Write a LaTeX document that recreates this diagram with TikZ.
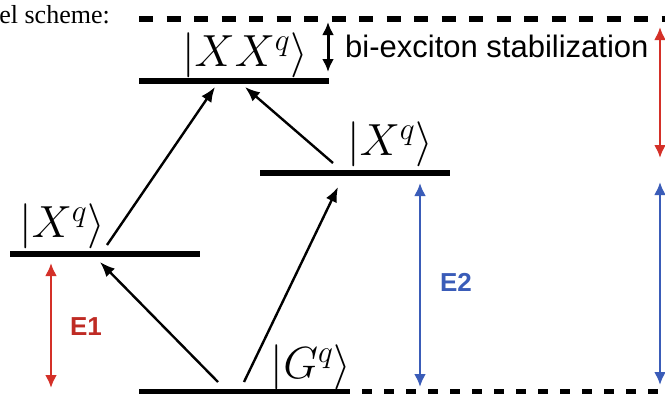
\RequirePackage{fix-cm}
\documentclass[tikz,border=0pt]{standalone}
\usepackage{fontspec}
\setsansfont{Liberation Sans}
\newfontfamily\timesfont{Liberation Serif}
\usetikzlibrary{arrows.meta}
\definecolor{eonered}{RGB}{212,48,40}
\definecolor{etwoblue}{RGB}{58,92,184}

\begin{document}
\begin{tikzpicture}[x=1pt,y=-1pt,>={Latex[length=15pt,width=12pt]},
 level/.style={line width=6pt},
 ket/.style={inner sep=0pt,anchor=south,font=\fontsize{45}{48}\selectfont},
 trans/.style={->,line width=2.4pt},
 gap/.style={<->,line width=2.8pt,>={Latex[length=13pt,width=12pt]}},
 elabel/.style={font=\fontsize{26}{30}\selectfont\sffamily\bfseries}]
\useasboundingbox (0,0) rectangle (665,394);
\node[anchor=base east,inner sep=0pt,font=\fontsize{26}{30}\selectfont\timesfont] (title) at (110,23) {el scheme:};
% levels
\draw[level,dash pattern=on 14pt off 13.5pt] (139,19) coordinate (top0)--(665,19) coordinate (top1);
\draw[level] (139,81) coordinate (xxL)--(329,81) coordinate (xxR);
\draw[level] (260,173) coordinate (xbL)--(450,173) coordinate (xbR);
\draw[level] (10,254) coordinate (xaL)--(200,254) coordinate (xaR);
\draw[level] (139,392) coordinate (gL)--(340,392) coordinate (gR);
\draw[level,dash pattern=on 10pt off 12pt] (gR)--(665,392) coordinate (bot1);
\node[ket] (xx) at (245,78) {$|XX^q\rangle$};
\node[ket] (xb) at (390,167) {$|X^q\rangle$};
\node[ket] (xa) at (62,249) {$|X^q\rangle$};
\node[ket] (g) at (311,390) {$|G^q\rangle$};
% transitions
\coordinate (xaUp) at (107,245);\coordinate (xxIn1) at (215,87);
\coordinate (xbUp) at (333,163);\coordinate (xxIn2) at (245,87);
\coordinate (gUp1) at (218,382);\coordinate (xaIn) at (100,262);
\coordinate (gUp2) at (244,382);\coordinate (xbIn) at (338,187);
\draw[trans] (xaUp)--(xxIn1);\draw[trans] (xbUp)--(xxIn2);
\draw[trans] (gUp1)--(xaIn);\draw[trans] (gUp2)--(xbIn);
% energies
\draw[gap,black,line width=3pt] (328,22) coordinate (stabT)--(328,72) coordinate (stabB);
\node[anchor=base west,inner sep=0pt,font=\fontsize{31}{34}\selectfont\sffamily] (stab) at (345,57) {bi-exciton stabilization};
\draw[gap,eonered] (51,263) coordinate (eoneT)--(51,388) coordinate (eoneB);
\node[elabel,text=eonered!90!black] (eone) at (86,327) {E1};
\draw[gap,etwoblue] (420,183) coordinate (etwoT)--(420,387) coordinate (etwoB);
\node[elabel,text=etwoblue] (etwo) at (456,282) {E2};
\draw[gap,eonered] (660,27) coordinate (sumT)--(660,158) coordinate (sumB);
\draw[gap,etwoblue] (660,182) coordinate (gapT)--(660,385) coordinate (gapB);
\end{tikzpicture}
\end{document}
